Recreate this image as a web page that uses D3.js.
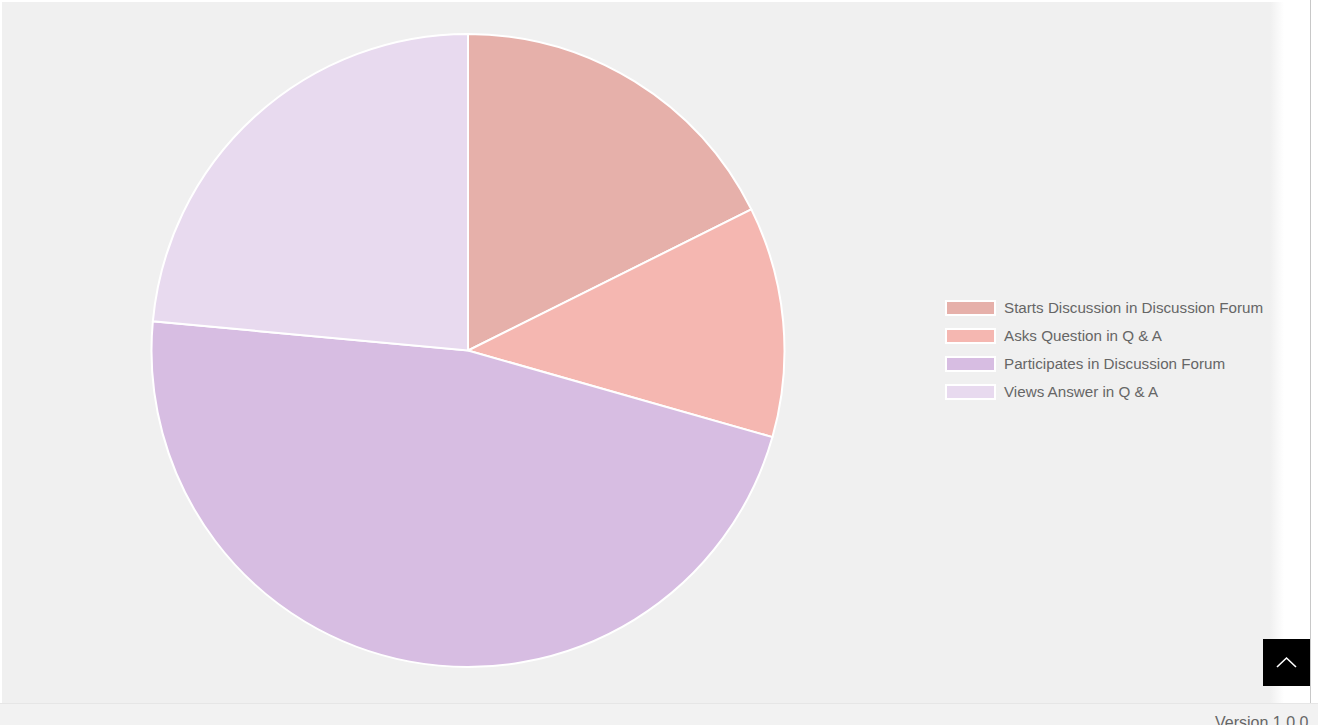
<!DOCTYPE html>
<html>
<head>
<meta charset="utf-8">
<script src="https://cdn.jsdelivr.net/npm/d3@7"></script>
<style>
  html, body { margin: 0; padding: 0; background: #fff; overflow: hidden; }
  body { width: 1318px; height: 725px; position: relative; font-family: "Liberation Sans", Arial, sans-serif; }
  #panel { position: absolute; left: 2px; top: 2px; width: 1282px; height: 701px;
           background: linear-gradient(to right, #f0f0f0 0, #f0f0f0 1268px, #fff 1282px); }
  #vline { position: absolute; left: 1310px; top: 0; width: 1px; height: 703px; background: #c8c8c8; }
  #footer { position: absolute; left: 0; top: 703px; width: 1318px; height: 22px; background: #f2f2f2;
            border-top: 1px solid #e6e6e6; }
  #footer span { position: absolute; left: 1215px; top: 10px; font-size: 16px; color: #666; }
  #top { position: absolute; left: 1263px; top: 639px; width: 47px; height: 47px; background: #000; }
  svg { position: absolute; left: 0; top: 0; }
</style>
</head>
<body>
<div id="panel"></div>
<div id="vline"></div>
<div id="footer"><span>Version 1.0.0</span></div>
<div id="top"><svg width="47" height="47"><path d="M14,28 L23.5,19 L33,28" fill="none" stroke="#fff" stroke-width="1.6"/></svg></div>
<svg id="chart" width="1284" height="703"></svg>
<script>
// activity counts
const labels = ["Starts Discussion in Discussion Forum", "Asks Question in Q & A",
                "Participates in Discussion Forum", "Views Answer in Q & A"];
const counts = [3, 2, 8, 4];
const colors = ["#e6b0aa", "#f5b7b1", "#d7bde2", "#e8daef"];

const svg = d3.select("#chart");
const cx = 468, cy = 350.5, r = 316.5;

const pie = d3.pie().sort(null).value(d => d);
const arc = d3.arc().innerRadius(0).outerRadius(r);

svg.append("g")
    .attr("transform", `translate(${cx},${cy})`)
  .selectAll("path")
  .data(pie(counts))
  .join("path")
    .attr("d", arc)
    .attr("fill", (d, i) => colors[i])
    .attr("stroke", "#fff")
    .attr("stroke-width", 2);

// legend
const y = d3.scalePoint().domain(labels).range([308, 392]);
const leg = svg.append("g")
  .selectAll("g")
  .data(labels)
  .join("g")
    .attr("transform", d => `translate(945,${y(d)})`);

leg.append("rect")
    .attr("x", 1).attr("y", -7)
    .attr("width", 49).attr("height", 14)
    .attr("fill", (d, i) => colors[i])
    .attr("stroke", "#fff")
    .attr("stroke-width", 2);

leg.append("text")
    .attr("x", 59).attr("y", 5)
    .attr("font-size", 15.2)
    .attr("fill", "#666")
    .text(d => d);
</script>
</body>
</html>
